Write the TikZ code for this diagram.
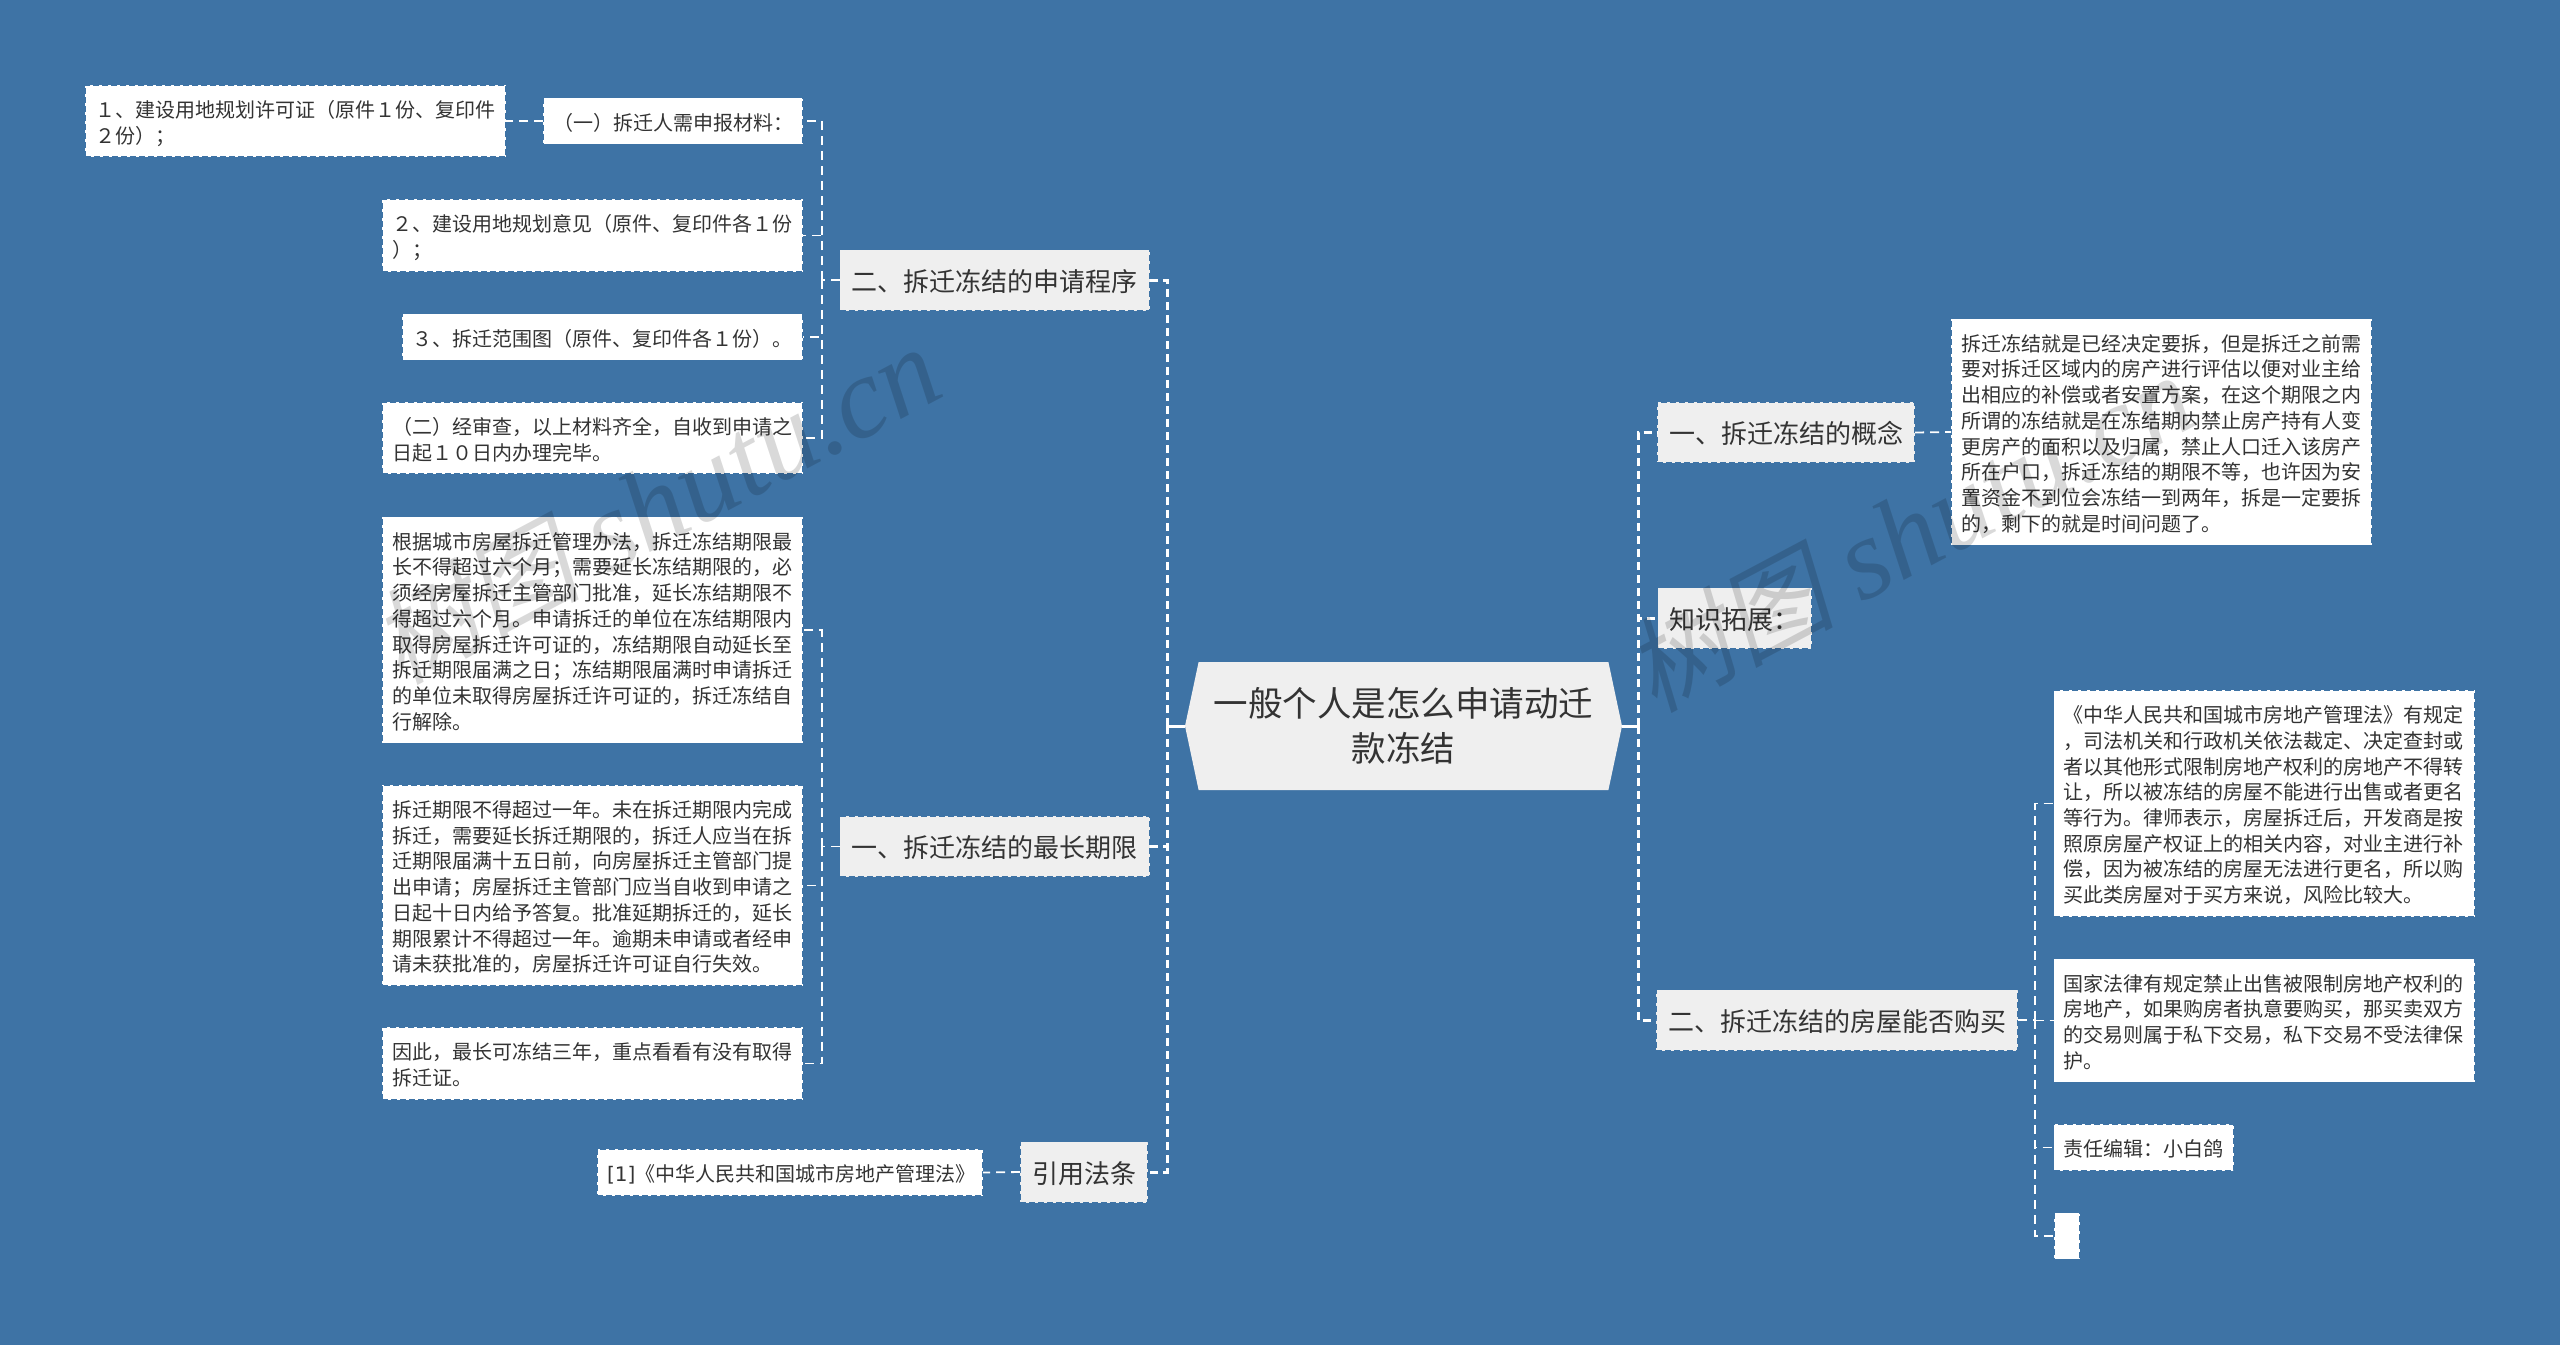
\documentclass[tikz,border=0pt]{standalone}
\usepackage{fontspec}
\setmainfont{Noto Sans CJK SC}
\newfontfamily\latinfont{DejaVu Sans}
\newfontfamily\markcjk[FakeSlant=0.2]{Noto Sans CJK SC}
\newfontfamily\marklatin{Liberation Serif}
\usetikzlibrary{shapes.symbols}
\definecolor{bgblue}{HTML}{3E73A5}
\definecolor{inkgrey}{HTML}{333333}
\definecolor{boxgrey}{HTML}{EFEFEF}
\newcommand{\linestrut}{\rule[-3.7pt]{0pt}{25.7pt}}
\newcommand{\markname}{{\markcjk\fontsize{104}{120}\selectfont 树图} {\marklatin\itshape shutu.cn}}
\begin{document}
\begin{tikzpicture}[x=1pt,y=-1pt,
	every node/.style={outer sep=0pt,text=inkgrey},
	leaf/.style={draw=bgblue,fill=white,line width=1.5pt,dash pattern=on 6pt off 3pt,inner xsep=10pt,inner ysep=10.5pt,align=left,font=\fontsize{20}{25.7}\selectfont,execute at begin node=\linestrut,execute at end node=\linestrut},
	branch/.style={draw=bgblue,fill=boxgrey,line width=1.5pt,dash pattern=on 6pt off 3pt,inner xsep=12pt,inner ysep=0pt,minimum height=61pt,text height=24pt,text depth=2pt,font=\fontsize{26}{32}\selectfont},
	thinlink/.style={draw=white,line width=1.8pt,dash pattern=on 9pt off 6pt},
	mainlink/.style={draw=white,line width=3pt,dash pattern=on 8pt off 5pt},
	rootlink/.style={draw=white,line width=3pt},
	watermark/.style={text=black,text opacity=.15,rotate=28,font=\fontsize{115}{120}\selectfont}]
	\useasboundingbox (0,0) rectangle (2560,1345);
	\fill[bgblue] (0,0) rectangle (2560,1345);
	\node[signal,signal to=west and east,signal pointer angle=156,fill=boxgrey,minimum width=437pt,minimum height=128pt,inner sep=0pt,align=center,font=\fontsize{34.5}{45}\selectfont] (0) at (1403.5,726){一般个人是怎么申请动迁\\款冻结};
	\node[branch] (1) at (994.5,280){二、拆迁冻结的申请程序};
	\node[branch] (2) at (994.5,846.5){一、拆迁冻结的最长期限};
	\node[branch] (3) at (1084,1172){引用法条};
	\node[branch] (4) at (1786,432.5){一、拆迁冻结的概念};
	\node[branch] (5) at (1734.5,618){知识拓展：};
	\node[branch] (6) at (1837,1020){二、拆迁冻结的房屋能否购买};
	\node[leaf,text width=401pt] (10) at (295.5,121){１、建设用地规划许可证（原件１份、复印件\\２份）；};
	\node[leaf,text width=240pt] (11) at (673,121){（一）拆迁人需申报材料：};
	\node[leaf,text width=401pt] (12) at (592.5,235.5){２、建设用地规划意见（原件、复印件各１份\\）；};
	\node[leaf,text width=381pt] (13) at (602.5,337){３、拆迁范围图（原件、复印件各１份）。};
	\node[leaf,text width=401pt] (14) at (592.5,438){（二）经审查，以上材料齐全，自收到申请之\\日起１０日内办理完毕。};
	\node[leaf,text width=401pt] (21) at (592.5,630){根据城市房屋拆迁管理办法，拆迁冻结期限最\\长不得超过六个月；需要延长冻结期限的，必\\须经房屋拆迁主管部门批准，延长冻结期限不\\得超过六个月。申请拆迁的单位在冻结期限内\\取得房屋拆迁许可证的，冻结期限自动延长至\\拆迁期限届满之日；冻结期限届满时申请拆迁\\的单位未取得房屋拆迁许可证的，拆迁冻结自\\行解除。};
	\node[leaf,text width=401pt] (22) at (592.5,885.5){拆迁期限不得超过一年。未在拆迁期限内完成\\拆迁，需要延长拆迁期限的，拆迁人应当在拆\\迁期限届满十五日前，向房屋拆迁主管部门提\\出申请；房屋拆迁主管部门应当自收到申请之\\日起十日内给予答复。批准延期拆迁的，延长\\期限累计不得超过一年。逾期未申请或者经申\\请未获批准的，房屋拆迁许可证自行失效。};
	\node[leaf,text width=401pt] (23) at (592.5,1063.5){因此，最长可冻结三年，重点看看有没有取得\\拆迁证。};
	\node[leaf,text width=366pt] (31) at (790,1172.5){{\latinfont [1]}《中华人民共和国城市房地产管理法》};
	\node[leaf,text width=401pt] (41) at (2161.5,432){拆迁冻结就是已经决定要拆，但是拆迁之前需\\要对拆迁区域内的房产进行评估以便对业主给\\出相应的补偿或者安置方案，在这个期限之内\\所谓的冻结就是在冻结期内禁止房产持有人变\\更房产的面积以及归属，禁止人口迁入该房产\\所在户口，拆迁冻结的期限不等，也许因为安\\置资金不到位会冻结一到两年，拆是一定要拆\\的，剩下的就是时间问题了。};
	\node[leaf,text width=401pt] (61) at (2264,803.5){《中华人民共和国城市房地产管理法》有规定\\，司法机关和行政机关依法裁定、决定查封或\\者以其他形式限制房地产权利的房地产不得转\\让，所以被冻结的房屋不能进行出售或者更名\\等行为。律师表示，房屋拆迁后，开发商是按\\照原房屋产权证上的相关内容，对业主进行补\\偿，因为被冻结的房屋无法进行更名，所以购\\买此类房屋对于买方来说，风险比较大。};
	\node[leaf,text width=401pt] (62) at (2264,1020.5){国家法律有规定禁止出售被限制房地产权利的\\房地产，如果购房者执意要购买，那买卖双方\\的交易则属于私下交易，私下交易不受法律保\\护。};
	\node[leaf,text width=160pt] (63) at (2143.5,1147.5){责任编辑：小白鸽};
	\node[leaf,text width=6pt] (64) at (2067,1236){};
	\coordinate (leftbus) at (1167,726);
	\coordinate (rightbus) at (1638,726);
	\coordinate (bus1) at (821.7,280);
	\coordinate (bus2) at (821.7,846.5);
	\coordinate (bus6) at (2035,1020);
	\draw[rootlink] (0.west)--(leftbus);
	\draw[rootlink] (0.east)--(rightbus);
	\foreach \i in {1,2,3}{
		\draw[mainlink] (leftbus)|-(\i.east);
		}
	\foreach \i in {4,5,6}{
		\draw[mainlink] (rightbus)|-(\i.west);
		}
	\foreach \i in {11,12,13,14}{
		\draw[thinlink] (bus1)|-(\i.east);
		}
	\foreach \i in {21,22,23}{
		\draw[thinlink] (bus2)|-(\i.east);
		}
	\foreach \i in {61,62,63,64}{
		\draw[thinlink] (bus6)|-(\i.west);
		}
	\draw[thinlink] (1.west)--(bus1);
	\draw[thinlink] (2.west)--(bus2);
	\draw[thinlink] (6.east)--(bus6);
	\draw[thinlink] (11.west)--(10.east);
	\draw[thinlink] (3.west)--(31.east);
	\draw[thinlink] (4.east)--(41.west);
	\node[watermark] (m1) at (656,505){\markname};
	\node[watermark] (m2) at (1910,533){\markname};
\end{tikzpicture}
\end{document}
